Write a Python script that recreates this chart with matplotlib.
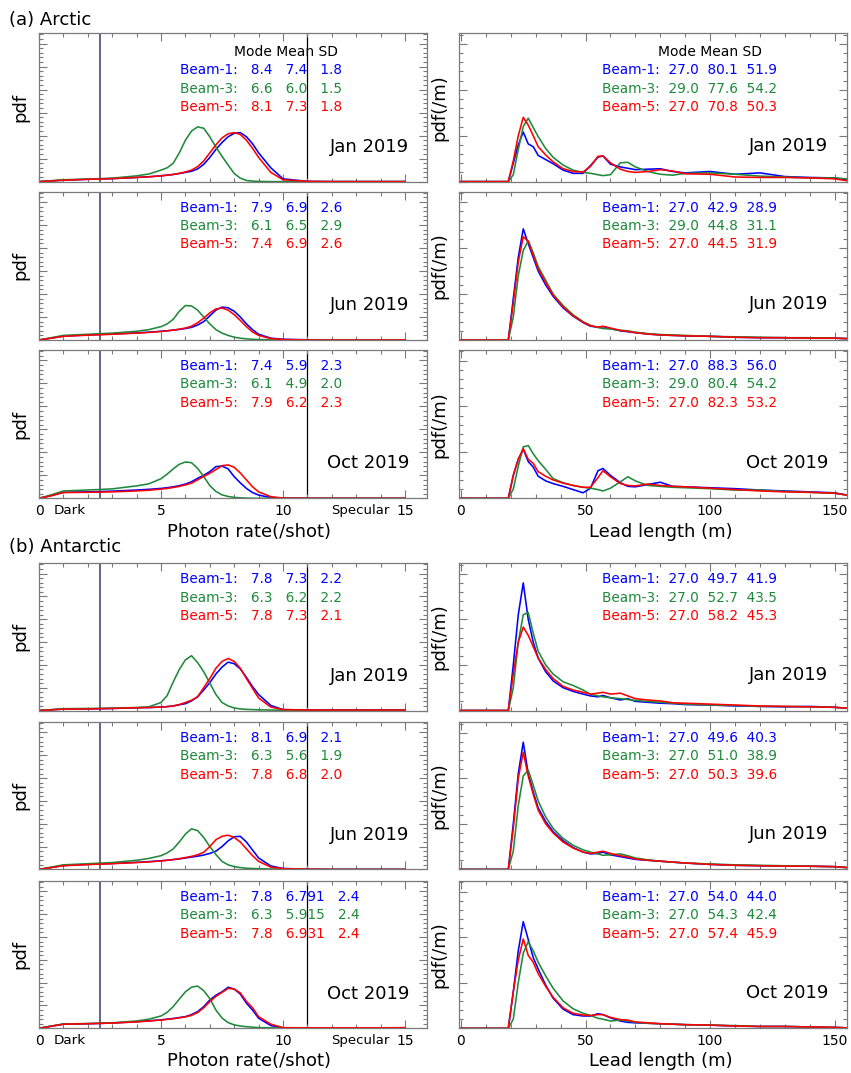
import matplotlib
matplotlib.use('Agg')
import matplotlib.pyplot as plt
from matplotlib.ticker import MultipleLocator, NullFormatter
from matplotlib.transforms import offset_copy

plt.rcParams['font.family'] = 'DejaVu Sans'

# ---------------- data ----------------
beams = ['Beam-1', 'Beam-3', 'Beam-5']
beam_colors = ['#0000ff', '#1f8a3b', '#ff0000']
months = ['Jan 2019', 'Jun 2019', 'Oct 2019']

# photon rate (/shot) bins and pdf, order: beam-1, beam-3, beam-5
rate_x = [0, 0.5, 1, 2, 3, 4, 4.5, 5, 5.25, 5.5, 5.75, 6, 6.25, 6.5, 6.75, 7, 7.25,
          7.5, 7.75, 8, 8.25, 8.5, 8.75, 9, 9.5, 10, 11, 12, 13, 14, 15]

arc_rate_jan = [
    [0, .003, .006, .010, .013, .018, .021, .025, .028, .031, .035, .040, .045, .055, .075, .105,
     .140, .170, .195, .210, .213, .195, .165, .125, .060, .012, .001, 0, 0, 0, 0],
    [0, .004, .008, .011, .015, .025, .033, .050, .060, .080, .125, .180, .220, .238, .232, .195,
     .150, .110, .072, .035, .015, .005, .002, .001, 0, 0, 0, 0, 0, 0, 0],
    [0, .003, .006, .010, .013, .018, .021, .025, .028, .031, .036, .042, .050, .065, .090, .125,
     .160, .190, .208, .213, .205, .180, .145, .105, .040, .008, .001, 0, 0, 0, 0],
]
arc_rate_jun = [
    [0, .008, .017, .022, .026, .031, .034, .038, .040, .043, .046, .050, .055, .065, .080, .105,
     .130, .143, .140, .125, .100, .070, .045, .025, .008, .003, .001, 0, 0, 0, 0],
    [0, .010, .020, .025, .030, .038, .045, .058, .070, .090, .125, .150, .148, .130, .100, .070,
     .045, .030, .020, .012, .008, .005, .003, .002, .001, .001, 0, 0, 0, 0, 0],
    [0, .008, .016, .021, .025, .030, .033, .037, .040, .043, .047, .052, .060, .075, .095, .118,
     .135, .139, .130, .110, .085, .058, .035, .020, .006, .002, 0, 0, 0, 0, 0],
]
arc_rate_oct = [
    [0, .012, .026, .028, .031, .036, .039, .043, .046, .050, .055, .062, .072, .087, .100, .116,
     .138, .140, .128, .094, .067, .043, .025, .014, .003, .001, 0, 0, 0, 0, 0],
    [0, .015, .032, .036, .041, .054, .063, .085, .105, .128, .148, .158, .155, .130, .095, .055,
     .030, .015, .008, .004, .002, .001, 0, 0, 0, 0, 0, 0, 0, 0, 0],
    [0, .011, .025, .026, .028, .032, .035, .040, .043, .047, .052, .058, .066, .080, .095, .109,
     .125, .142, .145, .135, .110, .080, .050, .028, .007, .001, 0, 0, 0, 0, 0],
]
ant_rate_jan = [
    [0, .003, .006, .007, .009, .012, .013, .015, .017, .020, .025, .030, .042, .060, .090, .122,
     .160, .190, .212, .205, .182, .145, .105, .070, .022, .004, .002, .002, .002, .002, .002],
    [0, .004, .008, .009, .010, .013, .016, .035, .065, .125, .180, .222, .240, .210, .170, .120,
     .070, .035, .020, .011, .007, .005, .004, .003, .002, .001, .001, 0, 0, 0, 0],
    [0, .003, .006, .007, .009, .012, .013, .015, .017, .020, .026, .035, .045, .060, .100, .140,
     .185, .215, .228, .215, .185, .140, .097, .055, .015, .004, .002, .002, .002, .002, .002],
]
ant_rate_jun = [
    [0, .008, .017, .022, .026, .031, .034, .038, .040, .043, .046, .050, .054, .058, .063, .070,
     .080, .100, .125, .143, .145, .120, .085, .050, .015, .004, .001, 0, 0, 0, 0],
    [0, .010, .020, .025, .030, .040, .048, .060, .072, .090, .120, .155, .178, .170, .140, .100,
     .065, .035, .020, .012, .008, .005, .004, .003, .002, .001, 0, 0, 0, 0, 0],
    [0, .008, .016, .021, .025, .030, .033, .037, .040, .043, .047, .052, .057, .064, .075, .100,
     .130, .145, .150, .140, .120, .090, .060, .035, .010, .003, .001, 0, 0, 0, 0],
]
ant_rate_oct = [
    [0, .009, .018, .020, .023, .029, .033, .037, .040, .043, .047, .051, .060, .073, .095, .124,
     .145, .160, .180, .172, .150, .110, .080, .044, .012, .002, 0, 0, 0, 0, 0],
    [0, .010, .019, .021, .024, .032, .040, .054, .070, .095, .128, .160, .180, .185, .165, .130,
     .080, .045, .025, .015, .010, .007, .005, .003, .002, .001, 0, 0, 0, 0, 0],
    [0, .009, .018, .020, .023, .028, .032, .036, .039, .042, .046, .050, .057, .069, .090, .117,
     .140, .157, .175, .172, .155, .118, .090, .051, .018, .003, .002, .002, .002, .002, .003],
]

# lead length (m) bins and pdf in 1e-3 /m
lead_x = [0, 19, 21, 23, 25, 27, 29, 31, 34, 37, 41, 45, 49, 52, 55, 57, 60, 64, 67, 70,
          75, 80, 85, 90, 100, 110, 120, 130, 140, 150, 155]

arc_lead_jan = [
    [0, 0, 4.0, 8.0, 10.8, 8.2, 7.6, 5.7, 4.8, 3.9, 2.5, 1.8, 1.8, 3.5, 5.3, 5.6, 3.8, 3.2, 2.9,
     2.6, 2.7, 2.8, 2.2, 1.9, 2.2, 1.6, 1.9, 1.1, 0.9, 0.8, 0.4],
    [0, 0, 1.5, 7.0, 12.0, 13.8, 11.8, 9.8, 7.2, 5.3, 3.6, 2.5, 2.0, 1.8, 1.5, 1.3, 1.5, 4.1, 4.2,
     3.2, 2.2, 1.6, 1.4, 1.8, 1.9, 1.6, 1.2, 1.0, 0.8, 0.8, 0.6],
    [0, 0, 4.5, 10.0, 14.0, 12.3, 10.0, 7.6, 5.8, 4.3, 2.8, 2.2, 2.1, 3.3, 5.5, 5.6, 4.1, 2.7, 2.2,
     2.0, 2.2, 2.6, 2.3, 1.7, 1.6, 1.0, 0.9, 0.9, 0.8, 0.6, 0.2],
]
arc_lead_jun = [
    [0, 0, 9, 18, 24.2, 21, 18, 15, 12, 9.5, 7, 5.2, 3.8, 3.0, 2.8, 2.9, 2.5, 2.0, 1.8, 1.6, 1.3,
     1.1, 1.0, 0.9, 0.8, 0.6, 0.5, 0.5, 0.4, 0.4, 0.3],
    [0, 0, 5, 14, 19.5, 21.6, 19, 16, 13, 10, 7.5, 5.5, 4.0, 3.2, 2.7, 2.5, 2.4, 2.1, 2.0, 1.7, 1.4,
     1.2, 1.1, 1.0, 0.8, 0.7, 0.6, 0.5, 0.5, 0.4, 0.3],
    [0, 0, 8, 17, 22.5, 21.5, 18.5, 15.5, 12.5, 9.8, 7.2, 5.3, 3.9, 3.1, 2.8, 3.0, 2.6, 2.1, 1.9,
     1.6, 1.3, 1.1, 1.0, 0.9, 0.8, 0.6, 0.5, 0.5, 0.4, 0.4, 0.3],
]
arc_lead_oct = [
    [0, 0, 5.0, 8.5, 10.7, 8.0, 6.8, 4.8, 3.8, 3.2, 2.6, 1.9, 1.2, 2.2, 6.0, 6.5, 5.0, 3.4, 2.6,
     2.5, 3.0, 3.5, 2.6, 2.5, 2.3, 2.1, 1.8, 1.6, 1.4, 1.2, 0.7],
    [0, 0, 2.0, 7.0, 11.2, 11.5, 9.7, 8.2, 6.3, 4.3, 3.4, 2.8, 2.4, 2.2, 1.9, 1.6, 2.2, 3.6, 4.7,
     3.8, 2.8, 2.6, 2.4, 2.3, 2.1, 1.8, 1.8, 1.5, 1.3, 1.1, 0.7],
    [0, 0, 5.0, 8.5, 10.8, 8.5, 7.6, 5.8, 4.8, 4.0, 3.3, 2.8, 2.4, 2.4, 4.5, 6.0, 4.7, 3.2, 2.8,
     2.7, 3.1, 2.8, 2.6, 2.5, 2.2, 1.9, 1.6, 1.4, 1.3, 1.1, 0.7],
]
ant_lead_jan = [
    [0, 0, 10, 21, 28, 20, 15, 11.5, 8.5, 6.5, 5.0, 4.2, 3.6, 3.2, 3.0, 3.3, 2.8, 2.3, 2.6, 2.0,
     1.8, 1.6, 1.5, 1.3, 1.2, 1.0, 0.9, 0.8, 0.9, 0.7, 0.5],
    [0, 0, 5, 15, 21, 21.5, 17, 13, 10, 8, 6.3, 5.5, 4.5, 3.6, 3.2, 3.0, 2.8, 2.6, 2.4, 2.2, 2.0,
     1.8, 1.6, 1.4, 1.2, 1.1, 0.9, 0.9, 0.8, 0.7, 0.5],
    [0, 0, 8, 15, 18.3, 16.5, 14, 11.5, 9, 7, 5.3, 4.5, 4.0, 3.6, 3.8, 4.0, 3.6, 3.8, 3.2, 2.6,
     2.3, 2.1, 1.7, 1.6, 1.4, 1.2, 1.0, 0.9, 0.8, 0.7, 0.5],
]
ant_lead_jun = [
    [0, 0, 10, 21, 27.9, 21, 17, 13.5, 10.5, 8.3, 6.3, 4.8, 3.8, 3.4, 3.5, 3.8, 3.2, 2.8, 2.5,
     2.2, 2.0, 1.8, 1.6, 1.4, 1.1, 0.9, 0.8, 0.7, 0.7, 0.6, 0.4],
    [0, 0, 4, 14, 20.5, 21.8, 18.5, 15, 11.5, 9, 6.8, 5.3, 4.3, 3.8, 3.4, 3.1, 3.2, 3.4, 3.0, 2.5,
     2.1, 1.8, 1.6, 1.4, 1.2, 1.0, 0.9, 0.8, 0.7, 0.6, 0.4],
    [0, 0, 9, 20, 25.7, 20.5, 16.5, 13, 10, 8, 6, 4.7, 3.8, 3.5, 3.8, 4.0, 3.5, 3.0, 2.7, 2.3,
     2.0, 1.8, 1.6, 1.4, 1.1, 0.9, 0.8, 0.7, 0.7, 0.6, 0.4],
]
ant_lead_oct = [
    [0, 0, 8, 17, 23.4, 19.5, 15.5, 13, 9.5, 6.6, 4.2, 3.0, 2.7, 2.7, 3.2, 3.0, 2.3, 1.6, 1.3,
     1.2, 1.1, 1.0, 0.9, 0.8, 0.7, 0.5, 0.4, 0.4, 0.3, 0.2, 0.1],
    [0, 0, 2, 10, 16.5, 19, 17, 14.5, 11.5, 8.8, 6.0, 4.3, 3.3, 2.8, 2.2, 2.0, 1.6, 1.8, 1.6,
     1.3, 1.1, 1.0, 0.9, 0.8, 0.7, 0.6, 0.4, 0.4, 0.3, 0.2, 0.1],
    [0, 0, 8, 15, 19.6, 16, 14.5, 12, 9.2, 6.8, 4.5, 3.3, 2.9, 2.8, 3.0, 3.0, 2.4, 1.9, 1.8,
     1.4, 1.2, 1.0, 0.9, 0.8, 0.7, 0.5, 0.4, 0.4, 0.3, 0.2, 0.1],
]

# Mode / Mean / SD per beam
arc_rate_stats = [
    [['8.4', '7.4', '1.8'], ['6.6', '6.0', '1.5'], ['8.1', '7.3', '1.8']],
    [['7.9', '6.9', '2.6'], ['6.1', '6.5', '2.9'], ['7.4', '6.9', '2.6']],
    [['7.4', '5.9', '2.3'], ['6.1', '4.9', '2.0'], ['7.9', '6.2', '2.3']],
]
arc_lead_stats = [
    [['27.0', '80.1', '51.9'], ['29.0', '77.6', '54.2'], ['27.0', '70.8', '50.3']],
    [['27.0', '42.9', '28.9'], ['29.0', '44.8', '31.1'], ['27.0', '44.5', '31.9']],
    [['27.0', '88.3', '56.0'], ['29.0', '80.4', '54.2'], ['27.0', '82.3', '53.2']],
]
ant_rate_stats = [
    [['7.8', '7.3', '2.2'], ['6.3', '6.2', '2.2'], ['7.8', '7.3', '2.1']],
    [['8.1', '6.9', '2.1'], ['6.3', '5.6', '1.9'], ['7.8', '6.8', '2.0']],
    [['7.8', '6.791', '2.4'], ['6.3', '5.915', '2.4'], ['7.8', '6.931', '2.4']],
]
ant_lead_stats = [
    [['27.0', '49.7', '41.9'], ['27.0', '52.7', '43.5'], ['27.0', '58.2', '45.3']],
    [['27.0', '49.6', '40.3'], ['27.0', '51.0', '38.9'], ['27.0', '50.3', '39.6']],
    [['27.0', '54.0', '44.0'], ['27.0', '54.3', '42.4'], ['27.0', '57.4', '45.9']],
]

# ---------------- layout ----------------
W, H = 851, 1073
fig = plt.figure(figsize=(W / 100, H / 100), dpi=100)
frame = '#7a7a7a'


def new_axes(x0, top, w, h):
    return fig.add_axes([x0 / W, 1 - (top + h) / H, w / W, h / H])


def style_axes(ax):
    for s in ax.spines.values():
        s.set_color(frame)
        s.set_linewidth(0.9)
    ax.tick_params(which='both', direction='in', top=True, right=True, color=frame,
                   width=0.8, labelsize=10, pad=4)
    ax.tick_params(which='major', length=6)
    ax.tick_params(which='minor', length=3)
    ax.yaxis.set_major_formatter(NullFormatter())


def write_stats(ax, stats, header, x_lab, x_head, gap):
    h_px = ax.get_position().height * H
    first = 37 if header else 16
    if header:
        ax.text(x_head, 1 - 19 / h_px, 'Mode Mean SD', transform=ax.transAxes,
                ha='left', va='center', fontsize=10)
    for i, (name, vals, c) in enumerate(zip(beams, stats, beam_colors)):
        y = 1 - (first + 18.3 * i) / h_px
        ax.text(x_lab, y, name + ':' + gap + gap.join(vals), transform=ax.transAxes,
                ha='left', va='center', fontsize=9.8, color=c)


def draw_rate(ax, curves, stats, month, header, bottom):
    ax.axvline(2.5, color='#3a3a62', lw=1.1, zorder=1.5)
    ax.axvline(11.0, color='black', lw=0.9, zorder=1.5)
    for y, c in zip(curves, beam_colors):
        ax.plot(rate_x, y, color=c, lw=1.15, zorder=2)
    ax.set_xlim(0, 15.9)
    ax.set_ylim(0, 0.645)
    ax.xaxis.set_major_locator(MultipleLocator(5))
    ax.xaxis.set_minor_locator(MultipleLocator(1))
    ax.yaxis.set_major_locator(MultipleLocator(0.1))
    ax.yaxis.set_minor_locator(MultipleLocator(0.02))
    style_axes(ax)
    ax.set_ylabel('pdf', fontsize=13, labelpad=3)
    write_stats(ax, stats, header, 0.363, 0.503, '   ')
    ax.text(0.955, 0.235, month, transform=ax.transAxes, ha='right', va='center', fontsize=13)
    if bottom:
        ax.set_xticks([0, 5, 10, 15])
        ax.set_xticklabels(['0', '5', '10', '15'])
        trans = offset_copy(ax.get_xaxis_transform(), fig=fig, y=-4, units='points')
        ax.text(1.25, 0, 'Dark', transform=trans, ha='center', va='top', fontsize=9.7)
        ax.text(13.15, 0, 'Specular', transform=trans, ha='center', va='top', fontsize=9.5)
        ax.set_xlabel('Photon rate(/shot)', fontsize=13)
        ax.xaxis.set_label_coords(0.54, -0.225)
        ax.xaxis.label.set_va('center')
    else:
        ax.xaxis.set_major_formatter(NullFormatter())


def draw_lead(ax, curves, stats, month, header, bottom):
    for y, c in zip(curves, beam_colors):
        ax.plot(lead_x, y, color=c, lw=1.15, zorder=2)
    ax.set_xlim(-1, 155)
    ax.set_ylim(0, 32.3)
    ax.xaxis.set_major_locator(MultipleLocator(50))
    ax.xaxis.set_minor_locator(MultipleLocator(10))
    ax.yaxis.set_major_locator(MultipleLocator(10))
    ax.yaxis.set_minor_locator(MultipleLocator(2))
    style_axes(ax)
    ax.set_ylabel('pdf(/m)', fontsize=13, labelpad=3)
    write_stats(ax, stats, header, 0.37, 0.513, '  ')
    ax.text(0.951, 0.24, month, transform=ax.transAxes, ha='right', va='center', fontsize=13)
    if bottom:
        ax.set_xlabel('Lead length (m)', fontsize=13)
        ax.xaxis.set_label_coords(0.52, -0.225)
        ax.xaxis.label.set_va('center')
    else:
        ax.xaxis.set_major_formatter(NullFormatter())


sections = [
    ('(a) Arctic', 20, [33.3, 191.7, 350.0], 148.3,
     [arc_rate_jan, arc_rate_jun, arc_rate_oct], [arc_lead_jan, arc_lead_jun, arc_lead_oct],
     arc_rate_stats, arc_lead_stats, True),
    ('(b) Antarctic', 547, [563.3, 722.2, 881.1], 147.2,
     [ant_rate_jan, ant_rate_jun, ant_rate_oct], [ant_lead_jan, ant_lead_jun, ant_lead_oct],
     ant_rate_stats, ant_lead_stats, False),
]

for title, ty, tops, h, rates, leads, rstats, lstats, has_header in sections:
    fig.text(9 / W, 1 - ty / H, title, fontsize=13, va='center', ha='left')
    for k in range(3):
        axl = new_axes(39, tops[k], 388, h)
        draw_rate(axl, rates[k], rstats[k], months[k], has_header and k == 0, k == 2)
        axr = new_axes(458.5, tops[k], 388.5, h)
        draw_lead(axr, leads[k], lstats[k], months[k], has_header and k == 0, k == 2)

fig.savefig('out.png', dpi=100)
